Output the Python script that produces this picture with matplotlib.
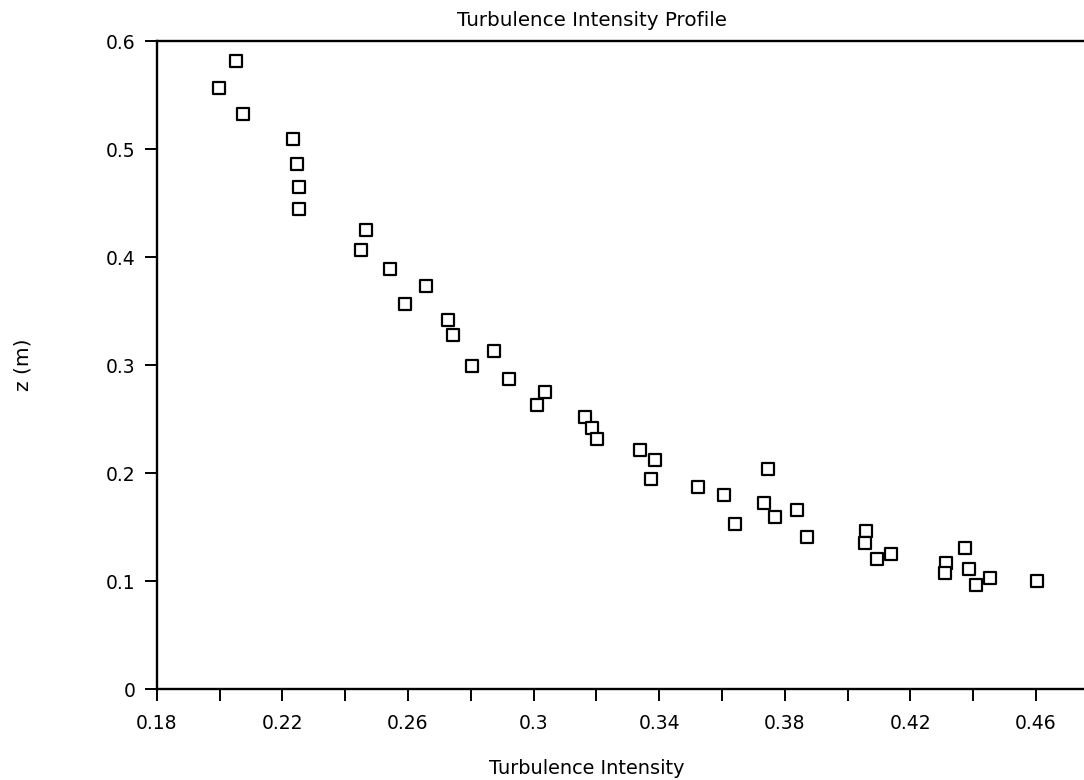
import matplotlib
matplotlib.use("Agg")
import matplotlib.pyplot as plt
from matplotlib.ticker import MultipleLocator

# turbulence intensity (x) against height z in metres (y)
intensity = [0.2052, 0.1999, 0.2075, 0.2234, 0.2246, 0.2252, 0.2254, 0.2466, 0.2451,
             0.2543, 0.2657, 0.2590, 0.2729, 0.2743, 0.2875, 0.2805, 0.2923, 0.3038,
             0.3012, 0.3165, 0.3187, 0.3203, 0.3338, 0.3387, 0.3374, 0.3523, 0.3608,
             0.3641, 0.3747, 0.3733, 0.3769, 0.3840, 0.3870, 0.4059, 0.4056, 0.4094,
             0.4138, 0.4315, 0.4310, 0.4373, 0.4386, 0.4409, 0.4453, 0.4604]
height_z = [0.5818, 0.5565, 0.5327, 0.5093, 0.4867, 0.4654, 0.4444, 0.4253, 0.4068,
            0.3892, 0.3734, 0.3565, 0.3419, 0.3281, 0.3132, 0.2996, 0.2873, 0.2750,
            0.2632, 0.2524, 0.2417, 0.2315, 0.2216, 0.2123, 0.1950, 0.1876, 0.1799,
            0.1528, 0.2040, 0.1725, 0.1593, 0.1657, 0.1410, 0.1466, 0.1358, 0.1204,
            0.1256, 0.1167, 0.1074, 0.1306, 0.1117, 0.0963, 0.1033, 0.1000]

x_ticks = [0.18, 0.22, 0.26, 0.30, 0.34, 0.38, 0.42, 0.46]
x_tick_labels = ["0.18", "0.22", "0.26", "0.3", "0.34", "0.38", "0.42", "0.46"]
y_ticks = [0, 0.1, 0.2, 0.3, 0.4, 0.5, 0.6]
y_tick_labels = ["0", "0.1", "0.2", "0.3", "0.4", "0.5", "0.6"]

plt.rcParams['font.family'] = ['DejaVu Sans']

fig = plt.figure(figsize=(10.84, 7.8), dpi=100)
ax = fig.add_axes([0.1446, 0.1163, 0.8554, 0.8307])

ax.scatter(intensity, height_z, marker='s', s=72, facecolors='white',
           edgecolors='black', linewidths=1.6, zorder=3)

ax.set_xlim(0.18, 0.4753)
ax.set_ylim(0, 0.6)

ax.set_xticks(x_ticks)
ax.set_xticklabels(x_tick_labels)
ax.xaxis.set_minor_locator(MultipleLocator(0.02))
ax.set_yticks(y_ticks)
ax.set_yticklabels(y_tick_labels)

ax.tick_params(axis='both', which='both', direction='out', length=8.5,
               width=1.4, labelsize=13.5)
ax.tick_params(axis='x', which='major', pad=9)
ax.tick_params(axis='y', which='major', pad=7)

for side in ['left', 'bottom', 'top']:
    ax.spines[side].set_linewidth(1.7)
ax.spines['right'].set_visible(False)

# labels sit where they were on the original page, not centred on the axes
fig.text(592 / 1084, 1 - 20 / 780, "Turbulence Intensity Profile",
         ha='center', va='center', fontsize=14.3)
fig.text(587 / 1084, 1 - 768 / 780, "Turbulence Intensity",
         ha='center', va='center', fontsize=13.9)
fig.text(23 / 1084, 1 - 365 / 780, "z (m)", rotation=90,
         ha='center', va='center', fontsize=14.5)

fig.savefig("out.png", dpi=100)
